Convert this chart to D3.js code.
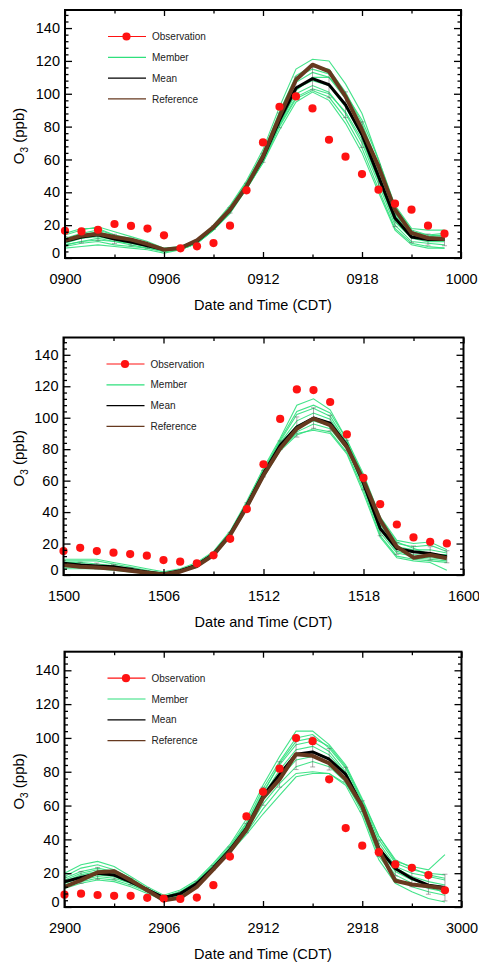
<!DOCTYPE html>
<html><head><meta charset="utf-8">
<script src="https://cdn.jsdelivr.net/npm/d3@7"></script>
<style>
body{margin:0;background:#fff;}
svg{display:block;}
text{font-family:"Liberation Sans",Arial,Helvetica,sans-serif;}
</style>
</head><body>
<svg id="c" width="479" height="966"></svg>
<script>
// ---------------- DATA ----------------
const hours = [0,1,2,3,4,5,6,7,8,9,10,11,12,13,14,15,16,17,18,19,20,21,22,23];
const xTickValues = [0,6,12,18,24];
const xMinorTicks = [3,9,15,21];
const yTickValues = [0,20,40,60,80,100,120,140];
const yMinorTicks = [4,8,12,16,24,28,32,36,44,48,52,56,64,68,72,76,84,88,92,96,104,108,112,116,124,128,132,136,144,148];
const xLabels1 = ["0900","0906","0912","0918","1000"];
const xLabels2 = ["1500","1506","1512","1518","1600"];
const xLabels3 = ["2900","2906","2912","2918","3000"];
const legendLabels = ["Observation","Member","Mean","Reference"];
const xTitle = "Date and Time (CDT)";

// Panel 1 (day 09)
const obs1  = [16.6,16.2,17.2,20.7,19.5,17.9,13.8,5.9,7.1,9.1,19.7,41.2,70.4,92.1,98.4,91.1,72.0,61.7,51.1,41.6,33.1,29.4,19.7,14.8];
const ref1  = [10.8,13.6,14.8,12.8,11.2,8.5,5.1,6.1,10.8,18.9,29.4,43.6,61.9,86.2,108.5,117.7,113.6,98.4,78.1,55.8,29.4,15.2,12.2,11.6];
const mean1 = [10.1,12.8,14.2,11.6,9.7,7.5,5.1,6.1,10.3,18.5,29.0,43.6,60.9,83.8,103.5,109.2,105.5,93.3,75.1,49.7,24.3,12.8,11.2,11.2];
const members1 = [
  [14,17,19,16,13,10,6,7,11,20,32,47,66,92,115,121,120,106,88,60,32,18,17,17],
  [12,15,17,14,12,9,5,6,11,19,31,46,64,89,111,117,115,101,82,56,28,16,14,15],
  [11,14,16,13,11,8,5,6,10,19,30,45,62,86,107,113,110,97,78,52,26,14,12,12],
  [9,12,13,11,9,7,4,6,10,18,29,44,61,84,103,108,105,92,74,48,23,12,10,10],
  [8,10,11,10,8,6,4,5,9,17,28,43,60,82,100,105,101,88,70,45,20,10,9,8],
  [7,9,10,8,7,6,4,5,9,17,28,42,59,80,97,102,98,85,67,42,18,9,7,6],
  [6,7,8,7,6,5,3,5,9,17,27,42,58,78,95,101,96,82,64,40,17,8,6,6],
  [15,18,18,14,11,8,5,6,10,18,29,43,60,81,98,103,100,89,72,47,22,12,13,14],
  [8,10,12,10,9,7,5,6,10,19,31,46,63,88,110,115,112,99,80,54,27,15,12,11],
  [10,12,14,12,10,8,5,6,10,18,28,42,58,81,102,110,110,100,84,60,31,17,14,13]
];

// Panel 2 (day 15)
const obs2  = [15.2,17.3,15.2,14.2,13.3,12.3,9.5,8.5,7.4,12.5,23.0,41.9,70.4,99.2,118.0,117.6,110.0,89.4,61.7,45.0,32.1,23.9,21.1,20.1];
const ref2  = [6.3,5.3,4.7,4.0,2.7,1.5,0.4,2.1,5.7,12.7,25.4,43.3,63.4,80.4,93.0,99.4,95.2,81.4,60.3,34.9,18.0,11.0,12.7,10.6];
const mean2 = [7.4,6.3,5.7,5.3,3.6,1.9,0.6,2.7,6.3,13.3,26.0,44.4,64.5,82.5,94.1,99.8,96.6,82.5,58.2,29.6,16.9,14.8,13.7,11.6];
const members2 = [
  [10,10,10,8,6,4,2,4,8,15,28,47,68,87,108,112,105,86,64,37,22,20,21,16],
  [9,9,9,7,5,3,1,3,7,14,27,46,67,85,102,106,101,84,61,34,20,18,19,15],
  [8,8,7,6,4,2,1,3,7,14,26,45,65,84,98,103,99,83,60,32,18,16,16,14],
  [7,7,6,5,4,2,1,3,6,13,26,44,64,83,95,100,97,82,58,30,17,15,14,12],
  [6,6,5,5,3,2,0,2,6,13,25,44,64,82,93,98,95,81,57,29,15,13,12,11],
  [5,5,5,4,3,1,0,2,6,13,25,43,63,80,91,96,93,80,56,27,14,12,11,10],
  [4,4,4,3,2,1,0,2,5,12,24,42,62,79,89,93,91,78,54,25,12,10,9,8],
  [8,7,6,5,4,2,1,3,7,14,26,44,63,80,90,92,90,77,52,24,11,9,8,3],
  [6,6,6,5,4,2,1,3,6,13,26,45,66,86,104,108,103,86,62,36,21,17,13,13],
  [7,6,5,5,4,2,1,3,7,14,25,43,62,81,94,99,97,84,63,35,19,11,10,9]
];

// Panel 3 (day 29)
const obs3  = [7.3,7.9,7.1,6.6,6.6,5.4,5.0,4.8,5.6,12.9,29.8,53.6,68.1,81.8,99.9,98.1,75.5,46.7,36.3,32.4,25.2,23.2,18.9,9.9];
const ref3  = [11.9,15.9,20.5,21.2,15.9,9.9,4.0,5.4,11.9,22.2,32.8,45.7,64.5,75.5,90.4,89.4,85.0,75.5,59.6,33.8,15.5,13.3,12.3,10.9];
const mean3 = [14.9,17.5,19.9,18.9,14.9,10.3,5.6,7.9,13.9,23.2,33.8,46.7,65.5,78.4,90.4,91.7,87.4,78.4,59.6,34.7,22.8,16.9,12.9,11.5];
const members3 = [
  [20,25,27,24,18,12,7,10,16,26,37,52,72,89,104,104,96,84,64,42,27,24,22,31],
  [18,23,25,22,17,11,6,9,15,25,36,50,70,86,100,102,94,82,62,40,26,22,20,19],
  [17,21,23,21,16,11,6,9,15,24,35,49,68,84,96,98,92,80,61,38,24,20,18,16],
  [15,19,21,20,15,10,5,8,14,24,34,47,66,81,93,95,90,79,60,36,23,18,15,13],
  [14,18,20,19,15,10,5,8,14,23,34,47,65,79,90,92,88,78,59,34,21,16,13,12],
  [13,16,18,17,14,9,5,7,13,23,33,46,63,76,87,89,85,76,57,32,19,14,11,9],
  [12,15,17,16,13,9,4,7,13,22,33,45,61,73,83,86,83,74,56,30,17,12,9,7],
  [11,14,16,15,12,8,4,7,12,22,32,44,58,70,79,80,79,72,54,28,14,9,5,3],
  [16,20,22,20,15,10,5,8,14,23,32,43,55,66,77,79,79,73,58,35,22,17,13,8],
  [14,17,19,18,14,10,6,8,14,24,35,48,67,85,98,100,95,83,63,42,28,23,19,17]
];

// ---------------- STYLE / LAYOUT ----------------
const colors = {obs:"#ff1212", member:"#2fe07c", mean:"#000000", ref:"#66391f"};
const panels = [
  {left:65,   right:461,   top:10,    bottom:258,   xLabels:xLabels1, obs:obs1, ref:ref1, mean:mean1, members:members1},
  {left:63.5, right:463.5, top:337.5, bottom:575,   xLabels:xLabels2, obs:obs2, ref:ref2, mean:mean2, members:members2},
  {left:64.5, right:461.5, top:651.7, bottom:907,   xLabels:xLabels3, obs:obs3, ref:ref3, mean:mean3, members:members3}
];

const svg = d3.select("#c");
const FONT = "Liberation Sans, Arial, Helvetica, sans-serif";

panels.forEach((p, pi) => {
  const x = d3.scaleLinear().domain([0,24]).range([p.left, p.right]);
  const y = d3.scaleLinear().domain([0,151]).range([p.bottom, p.top]);
  const g = svg.append("g");

  const clipId = "clip" + pi;
  svg.append("clipPath").attr("id", clipId).append("rect")
    .attr("x", p.left).attr("y", p.top).attr("width", p.right - p.left).attr("height", p.bottom - p.top);

  const plot = g.append("g").attr("clip-path", `url(#${clipId})`);
  const line = d3.line().x((d,i) => x(hours[i])).y(d => y(d));

  // members
  plot.selectAll(".member").data(p.members).join("path")
    .attr("d", line).attr("fill","none")
    .attr("stroke", colors.member).attr("stroke-width", 1.1).attr("stroke-opacity", 0.9);

  // error bars (std of members)
  const sd = hours.map((h,i) => d3.deviation(p.members.map(m => m[i])));
  const eb = plot.append("g").attr("stroke", "#555").attr("stroke-width", 0.7).attr("stroke-opacity", 0.7);
  hours.forEach((h,i) => {
    const xx = x(h), y1 = y(p.mean[i] - sd[i]), y2 = y(p.mean[i] + sd[i]);
    eb.append("line").attr("x1", xx).attr("x2", xx).attr("y1", y1).attr("y2", y2);
    eb.append("line").attr("x1", xx-2.5).attr("x2", xx+2.5).attr("y1", y1).attr("y2", y1);
    eb.append("line").attr("x1", xx-2.5).attr("x2", xx+2.5).attr("y1", y2).attr("y2", y2);
  });

  // mean
  plot.append("path").datum(p.mean).attr("d", line).attr("fill","none")
    .attr("stroke", colors.mean).attr("stroke-width", 3).attr("stroke-linejoin","round");
  // reference
  plot.append("path").datum(p.ref).attr("d", line).attr("fill","none")
    .attr("stroke", colors.ref).attr("stroke-width", 4).attr("stroke-linejoin","round");

  // observations
  g.selectAll(".obs").data(p.obs).join("circle")
    .attr("cx", (d,i) => x(hours[i])).attr("cy", d => y(d)).attr("r", 4.1)
    .attr("fill", colors.obs);

  // axes - minor ticks
  const styleAxis = sel => {
    sel.select(".domain").remove();
    sel.selectAll("line").attr("stroke","#000").attr("stroke-width",1.3);
    sel.selectAll("text").attr("font-family", FONT).attr("font-size", 14.5).attr("fill","#000");
  };
  g.append("g").attr("transform", `translate(${p.left},0)`)
    .call(d3.axisLeft(y).tickValues(yMinorTicks).tickSize(-3.5).tickFormat("")).call(styleAxis);
  g.append("g").attr("transform", `translate(${p.right},0)`)
    .call(d3.axisRight(y).tickValues(yMinorTicks).tickSize(-3.5).tickFormat("")).call(styleAxis);
  g.append("g").attr("transform", `translate(0,${p.bottom})`)
    .call(d3.axisBottom(x).tickValues(xMinorTicks).tickSize(-3.5).tickFormat("")).call(styleAxis);
  g.append("g").attr("transform", `translate(0,${p.top})`)
    .call(d3.axisTop(x).tickValues(xMinorTicks).tickSize(-3.5).tickFormat("")).call(styleAxis);

  // major ticks
  const yl = g.append("g").attr("transform", `translate(${p.left},0)`)
    .call(d3.axisLeft(y).tickValues(yTickValues).tickSize(-7).tickPadding(5).tickFormat(d3.format("d"))).call(styleAxis);
  yl.selectAll(".tick text").filter(d => d === 0).attr("transform","translate(0,-5.5)");
  g.append("g").attr("transform", `translate(${p.right},0)`)
    .call(d3.axisRight(y).tickValues(yTickValues).tickSize(-7).tickFormat("")).call(styleAxis);
  g.append("g").attr("transform", `translate(0,${p.bottom})`)
    .call(d3.axisBottom(x).tickValues(xTickValues).tickSize(-6).tickPadding(16)
      .tickFormat((d,i) => p.xLabels[i])).call(styleAxis);
  g.append("g").attr("transform", `translate(0,${p.top})`)
    .call(d3.axisTop(x).tickValues(xTickValues).tickSize(-6).tickFormat("")).call(styleAxis);

  // frame
  g.append("rect").attr("x", p.left).attr("y", p.top)
    .attr("width", p.right - p.left).attr("height", p.bottom - p.top)
    .attr("fill","none").attr("stroke","#000").attr("stroke-width",2);

  // x title
  g.append("text").attr("x", (p.left + p.right)/2).attr("y", p.bottom + 51.5)
    .attr("text-anchor","middle").attr("font-size",14.5).attr("font-family",FONT)
    .text(xTitle);

  // y title
  const yc = (p.top + p.bottom)/2 + 2;
  const yt = g.append("text").attr("transform", `translate(23.5,${yc}) rotate(-90)`)
    .attr("text-anchor","middle").attr("font-size",15).attr("font-family",FONT);
  yt.append("tspan").text("O");
  yt.append("tspan").attr("font-size",10).attr("dy",4).text("3");
  yt.append("tspan").attr("dy",-4).text("\u00a0(ppb)");

  // legend
  const lg = g.append("g");
  const keys = ["obs","member","mean","ref"];
  keys.forEach((k,i) => {
    const ry = p.top + 26.5 + i*20.8;
    lg.append("line").attr("x1", p.left+43).attr("x2", p.left+81).attr("y1", ry).attr("y2", ry)
      .attr("stroke", colors[k]).attr("stroke-width", 1.2);
    if (k === "obs") lg.append("circle").attr("cx", p.left+61.5).attr("cy", ry).attr("r", 4.1).attr("fill", colors.obs);
    lg.append("text").attr("x", p.left+87).attr("y", ry+3.6)
      .attr("font-size", 10).attr("font-family", FONT).attr("fill","#222")
      .text(legendLabels[i]);
  });
});
</script>
</body></html>
